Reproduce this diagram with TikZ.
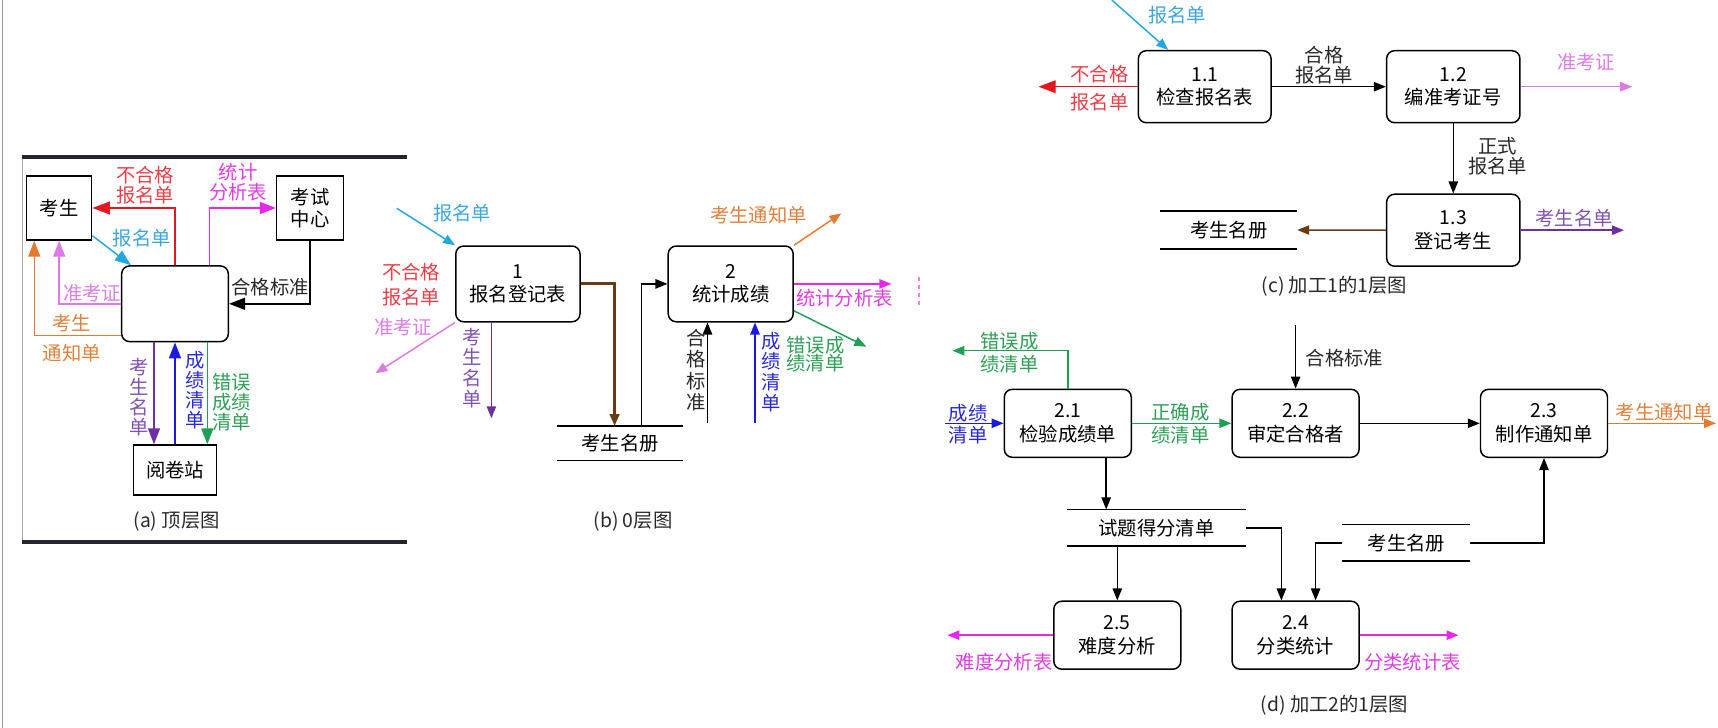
\documentclass[tikz,border=0pt]{standalone}
\usepackage{fontspec}
\setmainfont{Noto Sans CJK SC}
\usetikzlibrary{arrows.meta,calc}

\tikzset{every picture/.style={line width=0.75pt}}
\tikzset{
  lbl/.style={inner sep=0.75pt, align=center, font=\fontsize{14.5}{15}\selectfont},
  proc/.style={draw, rounded corners=6, line width=1.1pt, fill=white, align=center, inner sep=0pt, font=\fontsize{14.5}{17.5}\selectfont},
  extbox/.style={draw, line width=1.1pt, fill=white, align=center, inner sep=0pt, font=\fontsize{14.5}{17}\selectfont},
  storebox/.style={inner sep=0pt, font=\fontsize{14.5}{15}\selectfont},
  storeline/.style={line width=1.1pt},
  tip/.style={-{Triangle[length=9pt,width=7pt]}},
  bigtip/.style={-{Triangle[length=12pt,width=9pt]}},
  fblk/.style={tip, line width=1.1pt},
  fred/.style={-{Triangle[length=13pt,width=9.5pt]}, line width=1.1pt, color={rgb, 255:red, 228; green, 22; blue, 32 }},
  fmag/.style={tip, line width=1.1pt, color={rgb, 255:red, 232; green, 40; blue, 232 }},
  fvio/.style={tip, line width=1.1pt, color={rgb, 255:red, 222; green, 122; blue, 232 }},
  fcyan/.style={tip, line width=1.1pt, color={rgb, 255:red, 35; green, 168; blue, 222 }},
  forg/.style={tip, line width=1.1pt, color={rgb, 255:red, 228; green, 122; blue, 45 }},
  fpur/.style={tip, line width=1.1pt, color={rgb, 255:red, 108; green, 48; blue, 160 }},
  fblue/.style={tip, line width=1.1pt, color={rgb, 255:red, 25; green, 25; blue, 225 }},
  fgrn/.style={tip, line width=1.1pt, color={rgb, 255:red, 32; green, 158; blue, 82 }},
  fbrn/.style={tip, line width=1.1pt, color={rgb, 255:red, 105; green, 60; blue, 22 }},
  tred/.style={lbl, text={rgb, 255:red, 232; green, 62; blue, 72 }},
  tmag/.style={lbl, text={rgb, 255:red, 225; green, 60; blue, 228 }},
  tvio/.style={lbl, text={rgb, 255:red, 222; green, 125; blue, 232 }},
  tcyan/.style={lbl, text={rgb, 255:red, 60; green, 165; blue, 220 }},
  torg/.style={lbl, text={rgb, 255:red, 225; green, 128; blue, 60 }},
  tpur/.style={lbl, text={rgb, 255:red, 128; green, 82; blue, 178 }},
  tblue/.style={lbl, text={rgb, 255:red, 40; green, 40; blue, 215 }},
  tgrn/.style={lbl, text={rgb, 255:red, 45; green, 160; blue, 85 }},
  tblk/.style={lbl, text={rgb, 255:red, 40; green, 40; blue, 40 }}
}

\begin{document}
\begin{tikzpicture}[x=0.75pt,y=0.75pt,yscale=-1,xscale=1]
  \useasboundingbox (0,0) rectangle (1718,728);

  %page edge and frame of (a)
  \draw [line width=1.2pt, color={rgb, 255:red, 150; green, 150; blue, 150 }] (2.5,0) -- (2.5,728);
  \draw [line width=0.6pt, color={rgb, 255:red, 170; green, 170; blue, 170 }] (22.7,157) -- (22.7,542);
  \draw [line width=2.6pt, color={rgb, 255:red, 35; green, 38; blue, 45 }] (22,157) -- (407,157) (22,542) -- (407,542);

  %% (a) top level
  % Text Node
  \node [tred] (tA1) at (145,185) {不合格\\报名单};
  \node [tmag] (tA2) at (238,181.7) {统计\\分析表};
  \node [tcyan] (tA3) at (141.7,238.3) {报名单};
  \node [tblk] (tA4) at (270,286.7) {合格标准};
  \node [tvio] (tA5) at (92,293.3) {准考证};
  \node [torg] (tA6) at (71.7,323.3) {考生};
  \node [torg] (tA7) at (71.7,352.7) {通知单};
  \node [tpur] (tA8) at (139,397.5) {考\\生\\名\\单};
  \node [tblue] (tA9) at (195,390) {成\\绩\\清\\单};
  \node [tgrn] (tA10) at (231.7,401.7) {错误\\成绩\\清单};
  \node [tblk] (capA) at (176.7,521.7) {(a) 顶层图};
  % Shapes
  \node [extbox, minimum width=48.75pt, minimum height=48pt] (stu) at (59.2,208) {考生};
  \node [extbox, minimum width=50pt, minimum height=48pt] (ctr) at (310,208) {考试\\中心};
  \node [proc, minimum width=80pt, minimum height=56.8pt] (sys) at (175,303.8) {};
  \node [extbox, minimum width=62pt, minimum height=37.5pt] (yjz) at (175,470) {阅卷站};
  % Flows
  \draw [fred] (sys.north) |- (stu.east);
  \draw [fmag, bigtip] ($(sys.north)+(34.3,0)$) |- (ctr.west);
  \draw [fcyan, bigtip] ($(stu.south east)+(0,-5)$) -- ($(sys.north west)+(10,0)$);
  \draw [fblk, bigtip] (ctr.south) |- (sys.east);
  \draw [fvio, bigtip] (sys.west) -| (stu.south);
  \draw [forg, bigtip] ($(sys.south west)+(0,-6.7)$) -| ($(stu.south west)+(8.3,0)$);
  \draw [fpur, bigtip] ($(sys.south)+(-21,0)$) -- ($(yjz.north)+(-21,0)$);
  \draw [fblue, bigtip] (yjz.north) -- (sys.south);
  \draw [fgrn, bigtip] ($(sys.south)+(32.3,0)$) -- ($(yjz.north)+(32.3,0)$);

  %% (b) level 0
  % Text Node
  \node [tcyan] (tB1) at (462,213.3) {报名单};
  \node [tred, font=\fontsize{14.5}{18.75}\selectfont] (tB2) at (411,284.2) {不合格\\报名单};
  \node [tvio] (tB3) at (403,326.7) {准考证};
  \node [tpur, font=\fontsize{14.5}{15.6}\selectfont] (tB4) at (471.8,368) {考\\生\\名\\单};
  \node [torg] (tB5) at (758.5,215) {考生通知单};
  \node [tmag] (tB6) at (844.5,298.3) {统计分析表};
  \node [tgrn, font=\fontsize{14.5}{13.8}\selectfont] (tB7) at (815.5,354) {错误成\\绩清单};
  \node [tblk, font=\fontsize{14.5}{16}\selectfont] (tB8) at (696,370) {合\\格\\标\\准};
  \node [tblue, font=\fontsize{14.5}{15.6}\selectfont] (tB9) at (771,372) {成\\绩\\清\\单};
  \node [tblk] (capB) at (633,521.7) {(b) 0层图};
  % Shapes
  \node [proc, minimum width=93.2pt, minimum height=56.8pt] (p1) at (517.9,283.9) {1\\报名登记表};
  \node [proc, minimum width=93.75pt, minimum height=56.8pt] (p2) at (730.7,283.9) {2\\统计成绩};
  \node [storebox, minimum width=93.75pt, minimum height=25pt] (regB) at (620,443.3) {考生名册};
  \draw [storeline] (regB.north west) -- (regB.north east) (regB.south west) -- (regB.south east);
  \coordinate (bmB) at (396.8,208.3);
  \coordinate (zkB) at (375.4,373.3);
  \coordinate (kmB) at (491.4,418.3);
  \coordinate (tzB) at (841.4,213.3);
  \coordinate (fxB) at (891.4,283.9);
  \coordinate (cwB) at (866.4,346.7);
  \coordinate (hgB) at (707.5,423.3);
  \coordinate (cjB) at (755,423.3);
  % Flows
  \draw [fcyan] (bmB) -- (p1.north west);
  \draw [fvio] (p1.south west) -- (zkB);
  \draw [fpur] (kmB |- p1.south) -- (kmB);
  \draw [fbrn, line width=2.2pt] (p1.east) -| ($(regB.north)+(-5.4,0)$);
  \draw [fblk] ($(regB.north)+(21.4,0)$) |- (p2.west);
  \draw [forg] (p2.north east) -- (tzB);
  \draw [fmag] (p2.east) -- (fxB);
  \draw [fgrn] ($(p2.south east)+(0,-11.7)$) -- (cwB);
  \draw [fblk] (hgB) -- (hgB |- p2.south);
  \draw [fblue] (cjB) -- (cjB |- p2.south);
  \draw [dashed, line width=1.2pt, color={rgb, 255:red, 232; green, 40; blue, 232 }, draw opacity=0.6] (919,277) -- (919,305);

  %% (c) level 1 of process 1
  % Text Node
  \node [tcyan] (tC1) at (1177,15) {报名单};
  \node [tred] (tC2) at (1099.6,74) {不合格};
  \node [tred] (tC3) at (1099.6,101.7) {报名单};
  \node [tblk, font=\fontsize{14.5}{15}\selectfont] (tC4) at (1324,65) {合格\\报名单};
  \node [tvio] (tC5) at (1586,61.7) {准考证};
  \node [tblk] (tC6) at (1497.6,156.7) {正式\\报名单};
  \node [tpur] (tC7) at (1574,218.3) {考生名单};
  \node [tblk] (capC) at (1334.3,286.7) {(c) 加工1的1层图};
  % Shapes
  \node [proc, minimum width=99.5pt, minimum height=54pt] (p11) at (1204.7,86.7) {1.1\\检查报名表};
  \node [proc, minimum width=100pt, minimum height=54pt] (p12) at (1453.3,86.7) {1.2\\编准考证号};
  \node [proc, minimum width=100pt, minimum height=54pt] (p13) at (1453.3,230.2) {1.3\\登记考生};
  \node [storebox, minimum width=102pt, minimum height=27.5pt] (regC) at (1228.7,230) {考生名册};
  \draw [storeline] (regC.north west) -- (regC.north east) (regC.south west) -- (regC.south east);
  \coordinate (bmC) at (1111.8,0);
  \coordinate (bhC) at (1038.4,86.7);
  \coordinate (zkC) at (1632.2,86.7);
  \coordinate (kmC) at (1624,230.2);
  % Flows
  \draw [fcyan] (bmC) -- ($(p11.north west)+(30.6,0)$);
  \draw [fred] (p11.west) -- (bhC);
  \draw [fblk] (p11.east) -- (p12.west);
  \draw [fvio] (p12.east) -- (zkC);
  \draw [fblk] (p12.south) -- (p13.north);
  \draw [fbrn] (p13.west) -- (regC.east);
  \draw [fpur] (p13.east) -- (kmC);

  %% (d) level 1 of process 2
  % Text Node
  \node [tgrn, font=\fontsize{14.5}{17.2}\selectfont] (tD1) at (1009.5,353) {错误成\\绩清单};
  \node [tblue, font=\fontsize{14.5}{16.5}\selectfont] (tD2) at (968,424) {成绩\\清单};
  \node [tgrn, font=\fontsize{14.5}{17.2}\selectfont] (tD3) at (1180.6,423.3) {正确成\\绩清单};
  \node [tblk] (tD4) at (1344.4,358.3) {合格标准};
  \node [torg] (tD5) at (1664,411.7) {考生通知单};
  \node [tmag] (tD6) at (1004,661.7) {难度分析表};
  \node [tmag] (tD7) at (1412.6,661.7) {分类统计表};
  \node [tblk] (capD) at (1334.5,705) {(d) 加工2的1层图};
  % Shapes
  \node [proc, minimum width=95.25pt, minimum height=51pt] (p21) at (1067.8,423.3) {2.1\\检验成绩单};
  \node [proc, minimum width=95.25pt, minimum height=51pt] (p22) at (1295.6,423.3) {2.2\\审定合格者};
  \node [proc, minimum width=95.25pt, minimum height=51pt] (p23) at (1544,423.3) {2.3\\制作通知单};
  \node [proc, minimum width=95.25pt, minimum height=51pt] (p25) at (1117.3,635.2) {2.5\\难度分析};
  \node [proc, minimum width=95.25pt, minimum height=51pt] (p24) at (1295.6,635.2) {2.4\\分类统计};
  \node [storebox, minimum width=133pt, minimum height=26.8pt] (sd1) at (1156.6,527.8) {试题得分清单};
  \draw [storeline] (sd1.north west) -- (sd1.north east) (sd1.south west) -- (sd1.south east);
  \node [storebox, minimum width=95.25pt, minimum height=26.8pt] (sd2) at (1406.4,542.8) {考生名册};
  \draw [storeline] (sd2.north west) -- (sd2.north east) (sd2.south west) -- (sd2.south east);
  \coordinate (cwD) at (952.4,350.7);
  \coordinate (cjD) at (945,423.3);
  \coordinate (hgD) at (1295.6,325);
  \coordinate (tzD) at (1716,423.3);
  \coordinate (nfD) at (947.4,635.2);
  \coordinate (flD) at (1458.5,635.2);
  % Flows
  \draw [fgrn] (p21.north) |- (cwD);
  \draw [fblue] (cjD) -- (p21.west);
  \draw [fgrn] (p21.east) -- (p22.west);
  \draw [fblk] (hgD) -- (p22.north);
  \draw [fblk] (p22.east) -- (p23.west);
  \draw [forg] (p23.east) -- (tzD);
  \draw [fblk] ($(p21.south)+(38.4,0)$) -- ($(p21.south |- sd1.north)+(38.4,0)$);
  \draw [fblk] (sd1.east) -| ($(p24.north)+(-14.2,0)$);
  \draw [fblk] (sd2.west) -| ($(p24.north)+(20,0)$);
  \draw [fblk] (sd2.east) -| (p23.south);
  \draw [fblk] (sd1.south -| p25.north) -- (p25.north);
  \draw [fmag] (p25.west) -- (nfD);
  \draw [fmag] (p24.east) -- (flD);
\end{tikzpicture}
\end{document}
